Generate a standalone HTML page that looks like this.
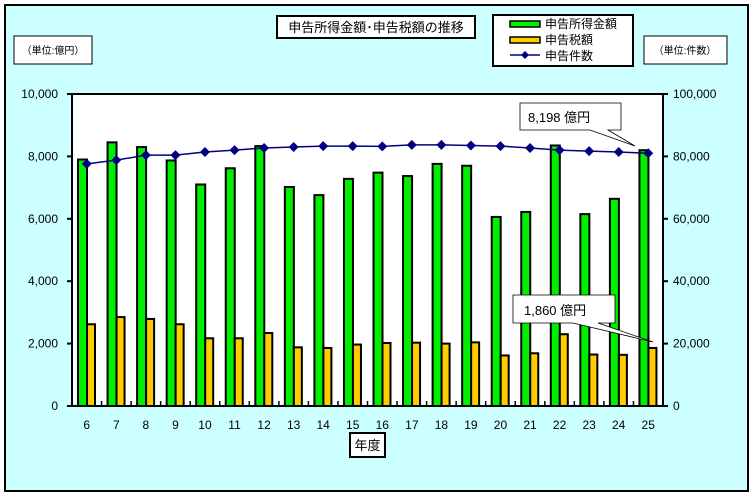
<!DOCTYPE html>
<html><head><meta charset="utf-8"><style>
html,body{margin:0;padding:0;background:#fff;}
svg{display:block;font-family:"Liberation Sans","Noto Sans CJK JP",sans-serif;}
</style></head><body>
<svg id="c" width="754" height="496" viewBox="0 0 754 496" xmlns="http://www.w3.org/2000/svg">
<rect x="5" y="5" width="743" height="486" fill="#ccffff" stroke="#000" stroke-width="2"/>
<rect x="72" y="94" width="591" height="312" fill="#fff" stroke="#000" stroke-width="2"/>
<g id="g"></g>
<!-- title -->
<rect x="277" y="16" width="198" height="22" fill="#fff" stroke="#000" stroke-width="2"/>
<text x="376" y="32" font-size="13" text-anchor="middle">申告所得金額･申告税額の推移</text>
<!-- unit boxes -->
<rect x="14" y="36" width="78" height="28" fill="#fff" stroke="#000" stroke-width="1"/>
<text x="53" y="54" font-size="10" text-anchor="middle">（単位:億円）</text>
<rect x="644" y="36" width="83" height="28" fill="#fff" stroke="#000" stroke-width="1"/>
<text x="685" y="54" font-size="10" text-anchor="middle">（単位:件数）</text>
<!-- legend -->
<rect x="493" y="15" width="140" height="51" fill="#fff" stroke="#000" stroke-width="2"/>
<rect x="510" y="21" width="30" height="6" fill="#00ee00" stroke="#000" stroke-width="1.5"/>
<text x="545" y="28" font-size="12">申告所得金額</text>
<rect x="510" y="37" width="30" height="6" fill="#ffcc00" stroke="#000" stroke-width="1.5"/>
<text x="545" y="44" font-size="12">申告税額</text>
<line x1="510" y1="55" x2="540" y2="55" stroke="#000080" stroke-width="1.5"/>
<path d="M525 51 L529 55 L525 59 L521 55Z" fill="#000080"/>
<text x="545" y="60" font-size="12">申告件数</text>
<!-- 年度 -->
<rect x="350" y="433" width="35" height="24" fill="#fff" stroke="#000" stroke-width="2"/>
<text x="367.5" y="450" font-size="13" text-anchor="middle">年度</text>
<!-- callouts -->
<path d="M520 103 H621 V130 H608 L635 146 L590 130 H520Z" fill="#fff" stroke="#000" stroke-width="0.8"/>
<text x="528" y="122" font-size="13">8,198 億円</text>
<path d="M513 295 H615 V323 H598 L653 342 L573 323 H513Z" fill="#fff" stroke="#000" stroke-width="0.8"/>
<text x="524" y="315" font-size="13">1,860 億円</text>
</svg>
<script>
var g=document.getElementById('g'),s='';
var G=[7900,8450,8300,7870,7100,7620,8330,7020,6760,7280,7480,7370,7760,7700,6060,6220,8350,6150,6640,8198];
var O=[2620,2850,2790,2620,2170,2170,2340,1880,1860,1970,2020,2030,2000,2040,1620,1690,2300,1650,1640,1860];
var L=[77.6,78.8,80.4,80.4,81.4,82,82.7,83,83.3,83.3,83.2,83.7,83.7,83.5,83.3,82.7,82,81.7,81.4,81];
var x0=72,w=591/20,y0=406,k=312/10000;
function Y(v){return y0-v*k;}
for(var i=0;i<=5;i++){var y=y0-i*62.4;var v=i*2000;
s+='<line x1="67" y1="'+y+'" x2="72" y2="'+y+'" stroke="#000" stroke-width="2"/>';
s+='<line x1="663" y1="'+y+'" x2="668" y2="'+y+'" stroke="#000" stroke-width="2"/>';
s+='<text x="58" y="'+(y+4)+'" font-size="12" text-anchor="end">'+v.toLocaleString('en-US')+'</text>';
s+='<text x="673" y="'+(y+4)+'" font-size="12">'+(v*10).toLocaleString('en-US')+'</text>';}
var pts=[];
for(var i=0;i<20;i++){var cx=x0+i*w;
if(i>0)s+='<line x1="'+cx+'" y1="401" x2="'+cx+'" y2="406" stroke="#000" stroke-width="1.5"/>';
s+='<rect x="'+(cx+6)+'" y="'+Y(G[i])+'" width="9" height="'+(G[i]*k)+'" fill="#00ee00" stroke="#000" stroke-width="2"/>';
s+='<rect x="'+(cx+15)+'" y="'+Y(O[i])+'" width="8" height="'+(O[i]*k)+'" fill="#ffcc00" stroke="#000" stroke-width="2"/>';
s+='<text x="'+(cx+w/2)+'" y="429" font-size="12" text-anchor="middle">'+(i+6)+'</text>';
pts.push((cx+w/2)+','+Y(L[i]*100));}
s+='<polyline points="'+pts.join(' ')+'" fill="none" stroke="#000080" stroke-width="1.5"/>';
pts.forEach(function(p){var a=p.split(',');var x=+a[0],y=+a[1];
s+='<path d="M'+x+' '+(y-5)+' L'+(x+5)+' '+y+' L'+x+' '+(y+5)+' L'+(x-5)+' '+y+'Z" fill="#000080"/>';});
g.innerHTML=s;
</script>
</body></html>
